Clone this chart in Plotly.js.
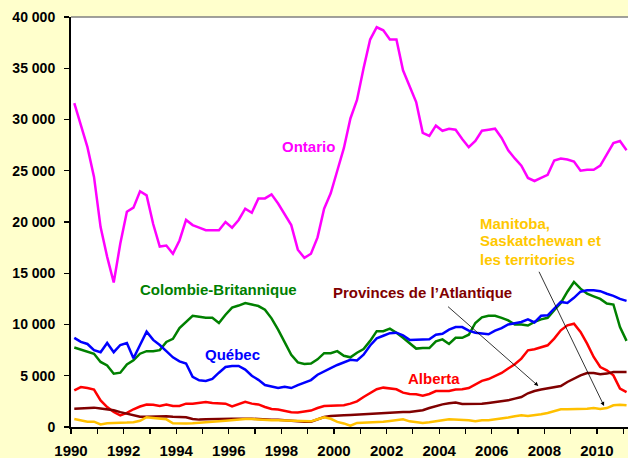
<!DOCTYPE html>
<html>
<head>
<meta charset="utf-8">
<script src="https://cdn.plot.ly/plotly-3.0.1.min.js"></script>
<style>html,body{margin:0;padding:0;background:#FFFFCC;}#chart{width:628px;height:458px;}</style>
</head>
<body>
<div id="chart"></div>
<script>
// Quarterly periods 1990 Q1 .. 2011 Q1
const startYear = 1990;
const nQuarters = 85;
const quarters = [];
for (let i = 0; i < nQuarters; i++) quarters.push(startYear + Math.floor(i / 4) + ((i % 4) + 0.5) / 4);

// Values (units)
const ontario = [31600,29400,27300,24400,19500,16600,14100,17900,21000,21400,23000,22600,19800,17600,17700,16900,18200,20200,19700,19450,19200,19200,19200,20000,19450,20200,21300,20900,22300,22300,22700,21800,20800,19700,17300,16500,16900,18500,21300,22800,25000,27200,30100,31900,35000,37800,39000,38700,37800,37800,34800,33200,31700,28700,28400,29400,28900,29100,29000,28100,27300,27900,28900,29000,29100,28200,27000,26200,25500,24300,24000,24300,24600,26000,26200,26100,25900,25000,25100,25100,25500,26600,27700,27900,27000];
const colombieBritannique = [7750,7550,7400,7150,6350,6000,5200,5300,6100,6500,7150,7400,7400,7500,8300,8600,9650,10300,10850,10750,10650,10650,10150,10950,11650,11850,12100,11950,11800,11450,10600,9500,8200,7050,6300,6150,6200,6600,7200,7200,7400,6950,6800,7250,7600,8400,9350,9350,9600,9200,8700,8200,7650,7700,7700,8350,8550,8100,8700,8700,9000,10150,10700,10850,10850,10650,10400,10000,10000,9900,10250,10500,10650,11400,12100,13200,14150,13500,13000,12750,12500,12050,11950,9750,8400];
const quebec = [8700,8300,8100,7500,7300,8200,7300,8000,8200,6700,8000,9300,8500,8000,7400,6800,6400,6200,4900,4550,4500,4700,5300,5850,5950,5950,5600,5000,4600,4100,3950,3800,3930,3800,4080,4350,4580,5100,5450,5750,6050,6300,6550,6500,7050,7950,8650,8900,9150,9200,8950,8500,8500,8550,8550,9000,9100,9500,9750,9750,9400,9200,9100,9050,9400,9650,10000,10100,10250,10500,10200,10850,10900,11550,12200,12100,12600,13200,13350,13350,13250,13000,12800,12500,12300];
const alberta = [3580,3900,3800,3650,2600,1950,1460,1140,1370,1730,2000,2200,2180,2050,2200,2050,2050,2280,2280,2380,2450,2350,2280,2280,2000,2200,2450,2280,2200,1950,1750,1700,1550,1450,1420,1500,1600,1850,2050,2080,2080,2120,2280,2500,2930,3320,3680,3840,3750,3680,3350,3220,3190,3060,3220,3510,3510,3510,3650,3680,3800,4130,4500,4680,4950,5270,5700,6120,6670,7480,7580,7750,7970,8620,9430,9920,10080,9270,8130,6830,5850,5530,5040,3750,3410];
const atlantique = [1790,1820,1850,1890,1800,1700,1630,1450,1300,1150,1000,1000,1020,1040,1040,1000,980,950,780,720,750,780,800,820,800,800,820,800,780,720,700,700,650,550,520,520,520,750,980,1070,1070,1140,1170,1210,1240,1300,1370,1400,1430,1460,1460,1460,1530,1630,1850,2050,2210,2310,2380,2250,2250,2250,2280,2350,2410,2510,2600,2770,2930,3290,3510,3650,3750,3900,4000,4390,4720,5040,5270,5270,5140,5210,5370,5370,5370];
const manitobaSaskTerr = [780,650,520,520,250,360,410,410,430,470,600,950,880,800,750,370,330,330,360,390,430,500,550,600,680,750,780,780,720,700,660,650,630,580,550,520,550,750,950,800,500,350,120,400,430,430,430,520,590,650,750,550,460,390,460,520,650,750,720,650,650,550,650,650,720,850,920,1040,1140,1070,1140,1240,1370,1560,1730,1730,1730,1790,1790,1850,1760,1850,2120,2180,2120];

const seriesNames = ['Ontario','Colombie-Britannique','Québec','Alberta','Provinces de l\u2019Atlantique','Manitoba, Saskatchewan et les territories'];
const seriesValues = [ontario, colombieBritannique, quebec, alberta, atlantique, manitobaSaskTerr];
const seriesColors = ['#FF00FF','#008000','#0000FF','#FF0000','#800000','#FFC000'];

const traces = seriesValues.map((vals, k) => ({
  type: 'scatter', mode: 'lines', name: seriesNames[k],
  x: quarters, y: vals,
  line: {color: seriesColors[k], width: 2.5},
  hoverinfo: 'skip'
}));

const labelFont = (c) => ({family: 'Liberation Sans, Arial, sans-serif', size: 15, color: c, weight: 'bold'});

const annotations = [
  {x: 1999.02, y: 27400, text: 'Ontario', showarrow: false, font: labelFont('#FF00FF')},
  {x: 1995.62, y: 13430, text: 'Colombie-Britannique', showarrow: false, font: labelFont('#008000')},
  {x: 1996.14, y: 7090, text: 'Québec', showarrow: false, font: labelFont('#0000FF')},
  {x: 2003.37, y: 13110, text: 'Provinces de l\u2019Atlantique', showarrow: false, font: labelFont('#800000')},
  {x: 2003.82, y: 4720, text: 'Alberta', showarrow: false, font: labelFont('#FF0000')},
  {x: 2005.47, y: 19900, text: 'Manitoba,', showarrow: false, xanchor: 'left', align: 'left', font: labelFont('#FFC800')},
  {x: 2005.47, y: 18150, text: 'Saskatchewan et', showarrow: false, xanchor: 'left', align: 'left', font: labelFont('#FFC800')},
  {x: 2005.47, y: 16360, text: 'les territories', showarrow: false, xanchor: 'left', align: 'left', font: labelFont('#FFC800')},
  {x: 2007.77, y: 4000, ax: 2004.28, ay: 11870, axref: 'x', ayref: 'y', xref: 'x', yref: 'y', text: '', showarrow: true, arrowhead: 2, arrowsize: 1, arrowwidth: 0.8, arrowcolor: '#000000'},
  {x: 2010.27, y: 2050, ax: 2007.77, ay: 15290, axref: 'x', ayref: 'y', xref: 'x', yref: 'y', text: '', showarrow: true, arrowhead: 2, arrowsize: 1, arrowwidth: 0.8, arrowcolor: '#000000'}
];

const yTickFont = {family: 'Liberation Sans, Arial, sans-serif', size: 14, color: '#000000', weight: 'bold'};
const xTickFont = {family: 'Liberation Sans, Arial, sans-serif', size: 15, color: '#000000', weight: 'bold'};

const layout = {
  width: 628, height: 458,
  margin: {l: 71, r: 0, t: 17, b: 31, pad: 0},
  paper_bgcolor: '#FFFFCC',
  plot_bgcolor: '#FFFFFF',
  showlegend: false,
  separators: ', ',
  xaxis: {
    range: [1990, 2011.18], showgrid: false, zeroline: false,
    showline: true, linecolor: '#000000', linewidth: 2,
    tick0: 1990, dtick: 2, ticks: 'outside', ticklen: 5, tickwidth: 1.2, tickcolor: '#000000',
    minor: {dtick: 1, tick0: 1990, ticks: 'outside', ticklen: 5, tickwidth: 1.2, tickcolor: '#000000', showgrid: false},
    tickfont: xTickFont, tickformat: 'd', ticklabelstandoff: 4
  },
  yaxis: {
    range: [0, 40000], showgrid: false, zeroline: false,
    showline: true, linecolor: '#000000', linewidth: 2,
    tick0: 0, dtick: 5000, ticks: 'outside', ticklen: 5, tickwidth: 1.2, tickcolor: '#000000',
    tickfont: yTickFont, tickformat: ',d', ticklabelstandoff: 6
  },
  shapes: [
    {type: 'line', xref: 'paper', yref: 'paper', x0: 0, x1: 1, y0: 1, y1: 1, line: {color: '#808080', width: 1.5}}
  ],
  annotations: annotations
};

Plotly.newPlot('chart', traces, layout, {staticPlot: true, displayModeBar: false});
</script>
</body>
</html>
